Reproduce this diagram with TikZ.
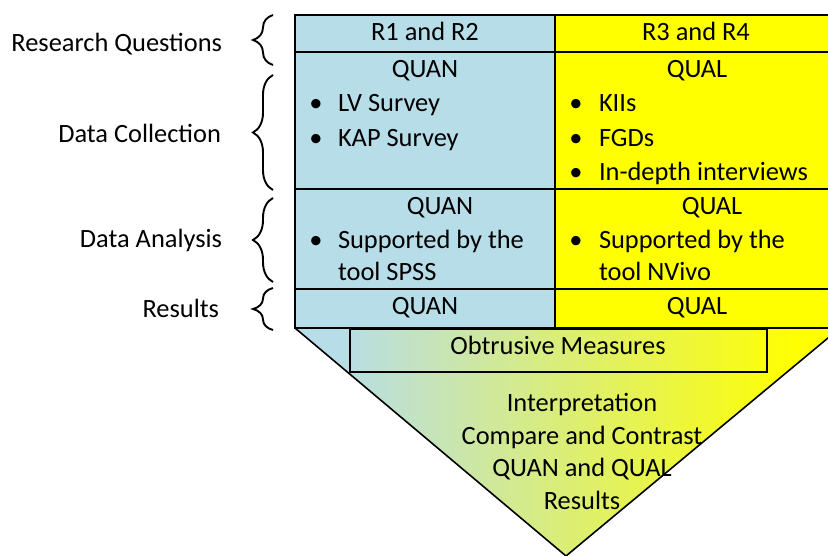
\documentclass[tikz,border=0pt]{standalone}
\usepackage{fontspec}
\setmainfont{Carlito}
\usetikzlibrary{decorations.pathreplacing}
\definecolor{quanblue}{HTML}{B7DDE8}
\definecolor{qualyellow}{HTML}{FFFF00}
% blend used inside the funnel: the path box maps to 25bp..75bp
\pgfdeclarehorizontalshading{funnelblend}{100bp}{%
  color(0bp)=(quanblue); color(29bp)=(quanblue);
  color(71bp)=(qualyellow); color(100bp)=(qualyellow)}
\begin{document}
\begin{tikzpicture}[x=1pt,y=-1pt,
  txt/.style={font=\fontsize{26.4}{32}\selectfont, inner sep=0pt, outer sep=0pt},
  ctr/.style={txt, anchor=base},
  lft/.style={txt, anchor=base west},
  rgt/.style={txt, anchor=base east},
  rule/.style={draw=black, line width=1.3pt},
  bracket/.style={decorate, decoration={brace, amplitude=20pt, aspect=0.5}, line width=1.9pt}]

\useasboundingbox (0,0) rectangle (828,556);
\clip (0,0) rectangle (828,556);

% cell fills
\fill[quanblue] (295,15) rectangle (555,328);
\fill[qualyellow] (555,15) rectangle (840,328);

% funnel with blue-to-yellow blend
\shade[shading=funnelblend] (295,328) -- (840,328) -- (566,556) -- cycle;
\draw[line width=1.6pt] (295,328) -- (566,556) -- (840,328);

% table grid
\draw[rule] (295,15) rectangle (840,328);
\draw[rule] (295,52) -- (840,52);
\draw[rule] (295,189) -- (840,189);
\draw[rule] (295,289) -- (840,289);
\draw[rule] (555,15) -- (555,328);

% obtrusive measures frame
\node[draw=black, line width=2.2pt, minimum width=417pt, minimum height=43pt,
      inner sep=0pt, anchor=north west] (obframe) at (349,328) {};

% braces
\coordinate (b1s) at (273,65);  \coordinate (b1e) at (273,15);
\coordinate (b2s) at (273,190); \coordinate (b2e) at (273,75);
\coordinate (b3s) at (273,282); \coordinate (b3e) at (273,198);
\coordinate (b4s) at (273,330); \coordinate (b4e) at (273,288);
\draw[bracket] (b1s) -- (b1e);
\draw[bracket] (b2s) -- (b2e);
\draw[bracket] (b3s) -- (b3e);
\draw[bracket] (b4s) -- (b4e);

% stage labels
\node[rgt] (lrq) at (222,52) {Research Questions};
\node[rgt] (ldc) at (221,143) {Data Collection};
\node[rgt] (lda) at (222,248) {Data Analysis};
\node[rgt] (lres) at (219,317) {Results};

% research questions row
\node[ctr] (rq1) at (425,41) {R1 and R2};
\node[ctr] (rq2) at (696,41) {R3 and R4};

% data collection row
\node[ctr] (dcq) at (425,78) {QUAN};
\node[ctr] (dcl) at (697,78) {QUAL};
\node[ctr] (dcb1) at (316,112) {•};
\node[lft] (dct1) at (338,112) {LV Survey};
\node[ctr] (dcb2) at (316,147) {•};
\node[lft] (dct2) at (338,147) {KAP Survey};
\node[ctr] (dcb3) at (576,112) {•};
\node[lft] (dct3) at (599,112) {KIIs};
\node[ctr] (dcb4) at (576,147) {•};
\node[lft] (dct4) at (599,147) {FGDs};
\node[ctr] (dcb5) at (576,181) {•};
\node[lft] (dct5) at (599,181) {In-depth interviews};

% data analysis row
\node[ctr] (daq) at (440,215) {QUAN};
\node[ctr] (dab1) at (316,249) {•};
\node[lft] (dat1) at (338,249) {Supported by the};
\node[lft] (dat2) at (338,281) {tool SPSS};
\node[ctr] (dal) at (712,215) {QUAL};
\node[ctr] (dab2) at (576,249) {•};
\node[lft] (dat3) at (599,249) {Supported by the};
\node[lft] (dat4) at (599,281) {tool NVivo};

% results row
\node[ctr] (rsq) at (425,315) {QUAN};
\node[ctr] (rsl) at (697,315) {QUAL};

% funnel texts
\node[ctr] (obtext) at (558,354) {Obtrusive Measures};
\node[ctr] (in1) at (582,411) {Interpretation};
\node[ctr] (in2) at (582,444) {Compare and Contrast};
\node[ctr] (in3) at (582,476) {QUAN and QUAL};
\node[ctr] (in4) at (582,509) {Results};
\end{tikzpicture}
\end{document}
